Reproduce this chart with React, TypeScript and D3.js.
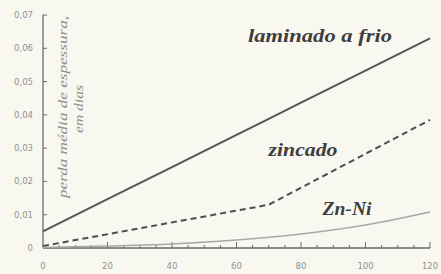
import { useRef, useEffect } from "react";
import * as d3 from "d3";

// data
const days = [0, 20, 40, 60, 70, 80, 100, 120];
const laminado = [0.005, 0.0147, 0.0243, 0.034, 0.0388, 0.0437, 0.0533, 0.063];
const zincadoX = [0, 70, 120];
const zincado = [0.0006, 0.013, 0.0385];
const znNiX = [0, 20, 40, 60, 80, 100, 120];
const znNi = [0.0002, 0.0006, 0.0012, 0.0024, 0.0042, 0.0069, 0.0108];
const yTicks = [0, 0.01, 0.02, 0.03, 0.04, 0.05, 0.06, 0.07];
const xTicks = [0, 20, 40, 60, 80, 100, 120];

const W = 441;
const H = 274;
const margin = { top: 15, right: 11, bottom: 26, left: 43 };
const serif = "'Liberation Serif', 'DejaVu Serif', serif";

const fmt = (v: number) => (v === 0 ? "0" : v.toFixed(2).replace(".", ","));

const App = () => {
  const svgRef = useRef<SVGSVGElement>(null);

  useEffect(() => {
    const svg = d3.select(svgRef.current);
    svg.selectAll("*").remove();

    const x = d3.scaleLinear().domain([0, 120]).range([margin.left, W - margin.right]);
    const y = d3.scaleLinear().domain([0, 0.07]).range([H - margin.bottom, margin.top]);

    svg.append("rect").attr("width", W).attr("height", H).attr("fill", "#f8f8f0");

    const axisColor = "#6a6a6a";

    // axes
    svg.append("line")
      .attr("x1", x(0)).attr("x2", x(0))
      .attr("y1", y(0.07)).attr("y2", y(0))
      .attr("stroke", axisColor).attr("stroke-width", 1.3);
    svg.append("line")
      .attr("x1", x(0)).attr("x2", x(120))
      .attr("y1", y(0)).attr("y2", y(0))
      .attr("stroke", axisColor).attr("stroke-width", 1.3);

    // y ticks (inward)
    svg.selectAll(".yt").data(yTicks.slice(1)).enter().append("line")
      .attr("x1", x(0)).attr("x2", x(0) + 4)
      .attr("y1", (d) => y(d)).attr("y2", (d) => y(d))
      .attr("stroke", axisColor).attr("stroke-width", 1);

    // x ticks every 5, majors taller
    const minor = d3.range(5, 125, 5);
    svg.selectAll(".xt").data(minor).enter().append("line")
      .attr("x1", (d) => x(d)).attr("x2", (d) => x(d))
      .attr("y1", y(0)).attr("y2", (d) => y(0) - (d % 20 === 0 ? 6 : 3))
      .attr("stroke", axisColor).attr("stroke-width", 1);

    svg.selectAll(".yl").data(yTicks).enter().append("text")
      .attr("x", x(0) - 10).attr("y", (d) => y(d) + 3)
      .attr("text-anchor", "end")
      .style("font-family", "'DejaVu Sans', sans-serif")
      .style("font-size", "8.5px")
      .style("fill", "#909090")
      .text((d) => fmt(d));

    svg.selectAll(".xl").data(xTicks).enter().append("text")
      .attr("x", (d) => x(d)).attr("y", H - 5)
      .attr("text-anchor", "middle")
      .style("font-family", "'DejaVu Sans', sans-serif")
      .style("font-size", "8.5px")
      .style("fill", "#909090")
      .text((d) => d);

    // series
    const line = d3.line<[number, number]>().x((d) => x(d[0])).y((d) => y(d[1]));
    const smooth = d3.line<[number, number]>().x((d) => x(d[0])).y((d) => y(d[1])).curve(d3.curveMonotoneX);

    svg.append("path")
      .attr("d", line(days.map((d, i) => [d, laminado[i]])))
      .attr("fill", "none").attr("stroke", "#555").attr("stroke-width", 2);

    svg.append("path")
      .attr("d", line(zincadoX.map((d, i) => [d, zincado[i]])))
      .attr("fill", "none").attr("stroke", "#4e4e4e").attr("stroke-width", 2)
      .attr("stroke-dasharray", "6,4");

    svg.append("path")
      .attr("d", smooth(znNiX.map((d, i) => [d, znNi[i]])))
      .attr("fill", "none").attr("stroke", "#a8a8a8").attr("stroke-width", 1.4);

    // series labels
    const label = (t: string, cx: number, cy: number, size: number, len: number) =>
      svg.append("text")
        .attr("x", cx).attr("y", cy)
        .attr("text-anchor", "middle")
        .attr("textLength", len).attr("lengthAdjust", "spacingAndGlyphs")
        .style("font-family", serif)
        .style("font-style", "italic").style("font-weight", "bold")
        .style("font-size", `${size}px`).style("fill", "#3e3e3e")
        .text(t);
    label("laminado a frio", 320, 42, 19, 144);
    label("zincado", 303, 156, 19, 69);
    label("Zn-Ni", 347, 215, 18, 49);

    // rotated y-axis title
    const titleStyle = (sel: any) =>
      sel.attr("text-anchor", "middle")
        .style("font-family", serif)
        .style("font-style", "italic")
        .style("font-size", "12.5px").style("fill", "#8c8c8c");
    svg.append("text")
      .attr("transform", "translate(67,107) rotate(-90)")
      .attr("textLength", 182).attr("lengthAdjust", "spacingAndGlyphs")
      .call(titleStyle)
      .text("perda média de espessura,");
    svg.append("text")
      .attr("transform", "translate(83,109) rotate(-90)")
      .attr("textLength", 48).attr("lengthAdjust", "spacingAndGlyphs")
      .call(titleStyle)
      .text("em dias");
  }, []);

  return (
    <svg
      ref={svgRef}
      width={W}
      height={H}
      style={{ position: "absolute", left: 0, top: 0 }}
    />
  );
};

export default App;
